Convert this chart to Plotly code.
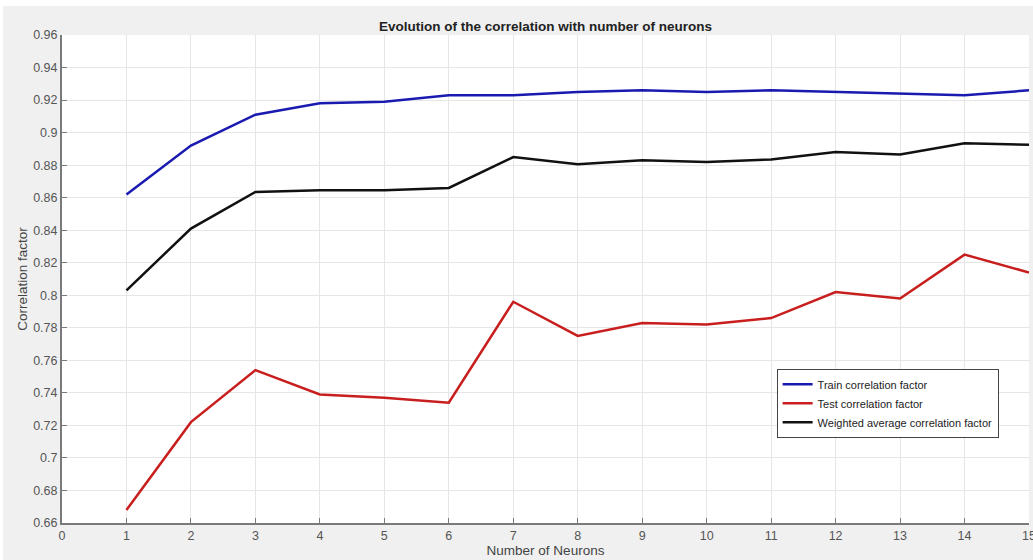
import plotly.graph_objects as go

# Number of hidden neurons tested
neurons = list(range(1, 16))

# Correlation factors per network size
train_corr = [0.862, 0.892, 0.911, 0.918, 0.919, 0.923, 0.923, 0.925,
              0.926, 0.925, 0.926, 0.925, 0.924, 0.923, 0.926]
test_corr = [0.668, 0.722, 0.754, 0.739, 0.737, 0.734, 0.796, 0.775,
             0.783, 0.782, 0.786, 0.802, 0.798, 0.825, 0.814]
weighted_corr = [0.803, 0.841, 0.8635, 0.8645, 0.8645, 0.866, 0.885, 0.8805,
                 0.883, 0.882, 0.8835, 0.888, 0.8865, 0.8935, 0.8925]

series = [
    ("Train correlation factor", train_corr, "#1a1ab0"),
    ("Test correlation factor", test_corr, "#c81e1e"),
    ("Weighted average correlation factor", weighted_corr, "#111111"),
]

fig = go.Figure()
for name, values, color in series:
    fig.add_trace(go.Scatter(
        x=neurons, y=values, mode="lines", name=name,
        line=dict(color=color, width=2.5),
    ))

tick_font = dict(family="Liberation Sans, Arial, sans-serif", size=12.5, color="#555555")
label_font = dict(size=13.5, color="#444444")

fig.update_layout(
    width=1033, height=560,
    margin=dict(l=62, r=4, t=35, b=37, autoexpand=False),
    paper_bgcolor="#f0f0f0",
    plot_bgcolor="#ffffff",
    font=dict(family="Liberation Sans, Arial, sans-serif", color="#333333"),
    title=dict(
        text="<b>Evolution of the correlation with number of neurons</b>",
        x=0.5, xref="paper", xanchor="center",
        y=1, yref="container", yanchor="top", pad=dict(t=22),
        font=dict(size=13.5, color="#222222"),
    ),
    xaxis=dict(
        range=[0, 15], dtick=1, tick0=0,
        showgrid=True, gridcolor="#e6e6e6", gridwidth=1,
        zeroline=False, automargin=False,
        showline=True, linecolor="#7a7a7a", linewidth=2,
        ticks="inside", ticklen=5, tickcolor="#7a7a7a",
        tickfont=tick_font, ticklabeloverflow="allow",
        title=dict(text="Number of Neurons", font=label_font, standoff=4),
    ),
    yaxis=dict(
        range=[0.66, 0.96], dtick=0.02, tick0=0.66,
        showgrid=True, gridcolor="#e6e6e6", gridwidth=1,
        zeroline=False, automargin=False,
        showline=True, linecolor="#7a7a7a", linewidth=2,
        ticks="inside", ticklen=5, tickcolor="#7a7a7a",
        tickfont=tick_font, ticklabeloverflow="allow",
        title=dict(text="Correlation factor", font=label_font, standoff=2),
    ),
    legend=dict(
        x=0.739, y=0.316, xanchor="left", yanchor="top",
        bgcolor="#ffffff", bordercolor="#444444", borderwidth=1,
        font=dict(size=11, color="#222222"),
        tracegroupgap=0, itemwidth=30,
    ),
    showlegend=True,
    # thin white frame along the top and left edges of the figure window
    shapes=[
        dict(type="rect", xref="paper", yref="paper", xsizemode="pixel", ysizemode="pixel",
             xanchor=0, yanchor=1, x0=-62, x1=1000, y0=35, y1=29,
             fillcolor="#ffffff", line=dict(width=0), layer="below"),
        dict(type="rect", xref="paper", yref="paper", xsizemode="pixel", ysizemode="pixel",
             xanchor=0, yanchor=0, x0=-62, x1=-59, y0=-37, y1=600,
             fillcolor="#ffffff", line=dict(width=0), layer="below"),
    ],
)

fig.write_html("out.html")
